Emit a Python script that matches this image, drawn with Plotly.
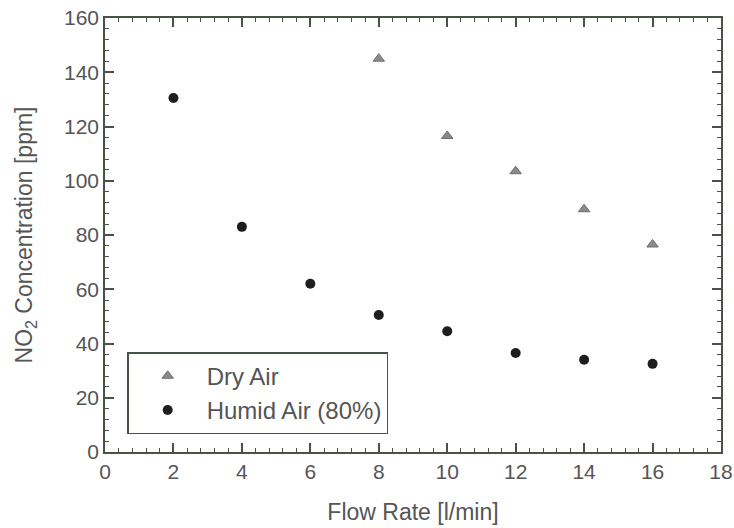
import plotly.graph_objects as go

dry_x = [8, 10, 12, 14, 16]
dry_y = [145, 116.5, 103.5, 89.5, 76.5]
humid_x = [2, 4, 6, 8, 10, 12, 14, 16]
humid_y = [130.5, 83, 62, 50.5, 44.5, 36.5, 34, 32.5]

x_ticks = [0, 2, 4, 6, 8, 10, 12, 14, 16, 18]
y_ticks = [0, 20, 40, 60, 80, 100, 120, 140, 160]

axis_col = "#4a5248"
text_col = "#555555"
font_fam = "Liberation Sans, Arial, sans-serif"

fig = go.Figure()
fig.add_trace(go.Scatter(x=dry_x, y=dry_y, mode="markers", name="Dry Air",
                         marker=dict(symbol="triangle-up", size=10, color="#8a8a8a",
                                     line=dict(color="#6e6e6e", width=1))))
fig.add_trace(go.Scatter(x=humid_x, y=humid_y, mode="markers", name="Humid Air (80%)",
                         marker=dict(symbol="circle", size=10, color="#1e1e1e")))

common = dict(showline=True, linecolor=axis_col, linewidth=1.5, mirror="allticks",
              ticks="inside", ticklen=9, tickwidth=1.5, tickcolor=axis_col,
              showgrid=False, zeroline=False, automargin=False,
              tickfont=dict(family=font_fam, size=21, color=text_col))

fig.update_xaxes(range=[0, 18], tickvals=x_ticks, ticktext=[str(v) for v in x_ticks],
                 minor=dict(ticks="inside", ticklen=4, tickwidth=1.2, tickcolor=axis_col, dtick=0.4),
                 title=dict(text="Flow Rate [l/min]", font=dict(family=font_fam, size=23, color=text_col),
                            standoff=22),
                 **common)
fig.update_yaxes(range=[0, 160], tickvals=y_ticks, ticktext=[str(v) for v in y_ticks],
                 minor=dict(ticks="inside", ticklen=4, tickwidth=1.2, tickcolor=axis_col, dtick=4),
                 title=dict(text="NO<sub>2</sub> Concentration [ppm]",
                            font=dict(family=font_fam, size=23, color=text_col), standoff=25),
                 **common)

fig.update_layout(
    width=734, height=528,
    margin=dict(l=105, r=13, t=18, b=76),
    paper_bgcolor="white", plot_bgcolor="white",
    showlegend=True,
    legend=dict(x=0.036, y=0.23, xanchor="left", yanchor="top",
                bordercolor=axis_col, borderwidth=1.5, bgcolor="white",
                font=dict(family=font_fam, size=24, color=text_col),
                itemwidth=68, tracegroupgap=0),
)

fig.write_html("out.html")
